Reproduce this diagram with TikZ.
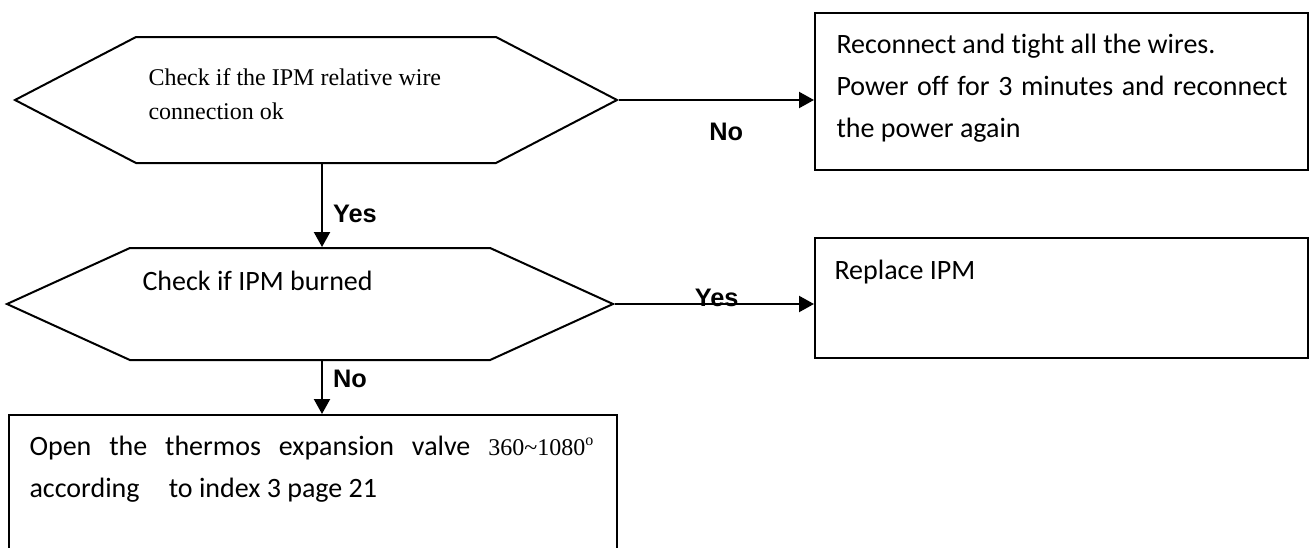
\documentclass[tikz,border=0pt]{standalone}
\usepackage{fontspec}
\setmainfont{Carlito}[Ligatures=NoCommon]
\newfontfamily\timesfont{Liberation Serif}
\newfontfamily\arialfont{Liberation Sans}
\usetikzlibrary{arrows.meta, positioning, shapes.symbols}
\tolerance=10000
\hyphenpenalty=10000

\begin{document}
\begin{tikzpicture}[
  x=0.375pt, y=-0.375pt,
  hexa/.style={draw, shape=signal, signal to=east and west, line width=0.75pt, inner sep=0pt},
  box/.style={draw, line width=0.75pt, inner sep=0pt},
  txt/.style={inner sep=0pt, font=\fontsize{10.5}{15.75}\selectfont},
  serif/.style={inner sep=0pt, align=left, font=\timesfont\fontsize{9}{12.75}\selectfont},
  lbl/.style={inner sep=0pt, font=\arialfont\bfseries\fontsize{9.5}{11}\selectfont},
  arr/.style={-{Triangle[length=5.6pt, width=6pt]}, line width=0.75pt}
]
\path[use as bounding box, clip] (0,0) rectangle (1310,547);

% decisions
\node[hexa, minimum width=225.75pt, minimum height=47.25pt, signal pointer angle=55] (chkA) at (316,100) {};
\node[serif, anchor=base west] (chkAtxt) at ([shift={(-168,19)}]chkA.center)
  {Check if the IPM relative wire\\connection ok};
\node[hexa, minimum width=227.25pt, minimum height=42pt, signal pointer angle=49] (chkB) at (310,304) {};
\node[txt, anchor=base west] (chkBtxt) at ([shift={(-168,-14)}]chkB.center) {Check if IPM burned};

% actions
\node[box, minimum width=184.9pt, minimum height=58.9pt] (fixA) at (1061.5,91.5) {};
\node[txt, anchor=base west, text width=169.1pt, align=justify] (fixAtxt) at ([shift={(22,42)}]fixA.north west)
  {Reconnect and tight all the wires.\par Power off for 3 minutes and reconnect the power again};
\node[box, minimum width=184.9pt, minimum height=45pt] (fixB) at (1061.5,298) {};
\node[txt, anchor=base west] (fixBtxt) at ([shift={(20,42)}]fixB.north west) {Replace IPM};
\node[box, minimum width=228pt, minimum height=54.4pt] (valve) at (313,487.5) {};
\node[txt, anchor=base west, text width=211.9pt, align=justify] (valvetxt) at ([shift={(21,42)}]valve.north west)
  {Open the thermos expansion valve {\timesfont\fontsize{9}{15.75}\selectfont 360\textasciitilde1080\textsuperscript{o}} according\hspace{11pt}to index 3 page 21};

\coordinate (spine) at (322,0);

% connectors
\draw[arr] (chkA.east) -- node[lbl, pos=0.55, below=8.25pt] (noA) {No} (chkA.east -| fixA.west);
\draw[arr] (chkA.south -| spine) -- node[lbl, pos=0.7, anchor=base west, xshift=3.75pt] (yesA) {Yes} (chkB.north -| spine);
\draw[arr] (chkB.east) -- node[lbl, pos=0.51, anchor=base, yshift=-0.75pt] (yesB) {Yes} (chkB.east -| fixB.west);
\draw[arr] (chkB.south -| spine) -- node[lbl, pos=0.5, anchor=base west, xshift=3.75pt] (noB) {No} (valve.north -| spine);
\end{tikzpicture}
\end{document}
